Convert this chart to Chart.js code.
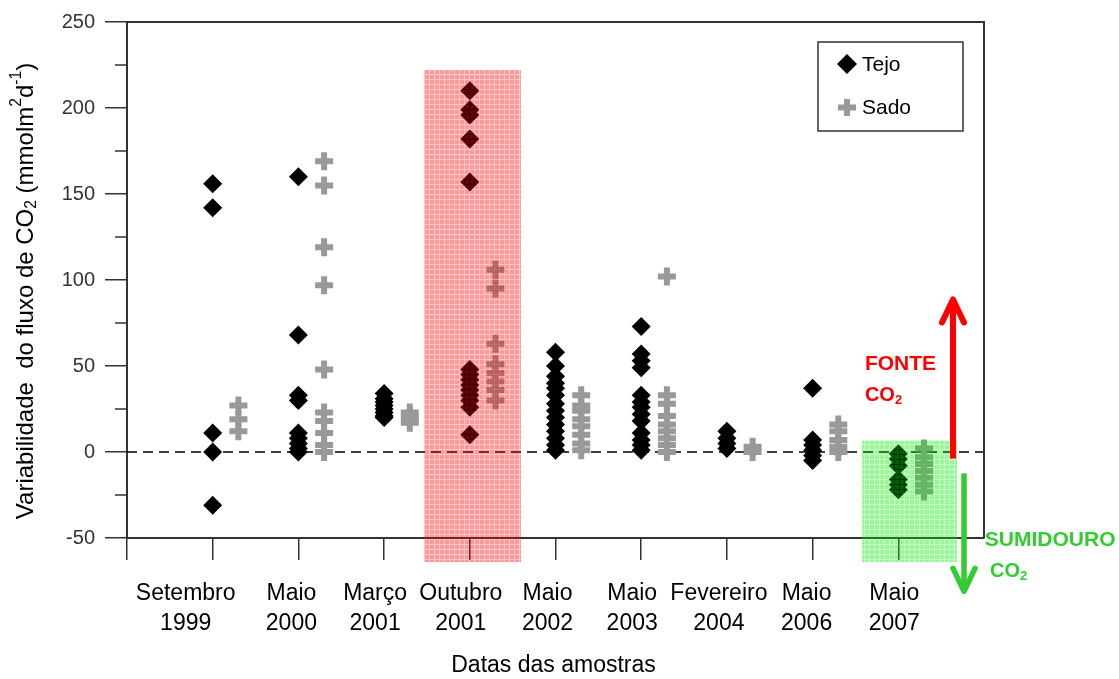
<!DOCTYPE html>
<html>
<head>
<meta charset="utf-8">
<script src="https://cdn.jsdelivr.net/npm/chart.js@4.4.1/dist/chart.umd.min.js"></script>
<style>
  html, body { margin: 0; padding: 0; background: #fff; }
</style>
</head>
<body>
<canvas id="chart" width="1119" height="679"></canvas>
<script>
// Data
const categories = [
    ["Setembro", "1999"], ["Maio", "2000"], ["Março", "2001"], ["Outubro", "2001"],
    ["Maio", "2002"], ["Maio", "2003"], ["Fevereiro", "2004"], ["Maio", "2006"], ["Maio", "2007"]
];
const tejoValues = [
    [156, 142, 11, 0, -31],
    [160, 68, 33, 30, 11, 8, 5, 2, 0],
    [34, 31, 29, 27, 25, 23, 21, 20],
    [210, 199, 196, 182, 157, 48, 45, 42, 39, 36, 33, 30, 26, 10],
    [58, 50, 44, 40, 37, 33, 28, 24, 20, 16, 12, 8, 4, 1],
    [73, 57, 53, 49, 33, 29, 26, 22, 18, 11, 7, 4, 1],
    [12, 8, 5, 2],
    [37, 7, 4, 1, -2, -5],
    [-1, -4, -8, -16, -19, -22]
];
const sadoValues = [
    [27, 19, 12],
    [169, 155, 119, 97, 48, 23, 18, 11, 4, 0],
    [23, 20, 17],
    [106, 95, 63, 51, 46, 41, 36, 30],
    [33, 27, 24, 19, 15, 10, 5, 1],
    [102, 33, 28, 21, 16, 12, 8, 4, 0],
    [3, 0],
    [16, 12, 7, 3, 0],
    [2, -3, -7, -11, -15, -19, -23]
];
const yMin = -50, yMax = 250, yStep = 50;

// Layout bits
const FONT = "'Liberation Sans', Arial, sans-serif";
const sadoShift = 0.3;
const labelShift = [-27, -7, -9, -9, -8, -9, -8, -6, -4]; // px, labels sit a bit left of ticks
const sourceBox = { x0: 3.466, x1: 4.597, y0: -64, y1: 222 };
const sinkBox = { x0: 8.576, x1: 9.685, y0: -64, y1: 6.6 };

function toPoints(groups, shift) {
    const pts = [];
    groups.forEach((vals, i) => vals.forEach(v => pts.push({ x: i + 1 + shift, y: v })));
    return pts;
}

// fine grid texture like the original shading
function hatch(ctx, base, line) {
    const c = document.createElement("canvas");
    c.width = 5; c.height = 5;
    const g = c.getContext("2d");
    g.fillStyle = base;
    g.fillRect(0, 0, 4, 4);
    g.fillStyle = line;
    g.fillRect(4, 0, 1, 5);
    g.fillRect(0, 4, 4, 1);
    return ctx.createPattern(c, "repeat");
}

// text with sub/superscripts, segments: [text, kind]
function richText(ctx, segs, x, y, size, align, bold) {
    const weight = bold ? "bold " : "";
    const parts = segs.map(([t, kind]) => {
        const s = kind ? size * 0.65 : size;
        ctx.font = weight + s + "px " + FONT;
        return { t, s, w: ctx.measureText(t).width, dy: kind === "sub" ? size * 0.25 : kind === "sup" ? -size * 0.38 : 0 };
    });
    const total = parts.reduce((acc, p) => acc + p.w, 0);
    let cx = align === "center" ? x - total / 2 : x;
    ctx.textAlign = "left";
    parts.forEach(p => {
        ctx.font = weight + p.s + "px " + FONT;
        ctx.fillText(p.t, cx, y + p.dy);
        cx += p.w;
    });
}

function arrow(ctx, x, yFrom, yTo, color, width) {
    const dir = yTo < yFrom ? 1 : -1;
    ctx.save();
    ctx.strokeStyle = color;
    ctx.lineWidth = width;
    ctx.beginPath();
    ctx.moveTo(x, yFrom);
    ctx.lineTo(x, yTo + dir * 2);
    ctx.stroke();
    ctx.lineCap = "round";
    ctx.lineJoin = "round";
    ctx.beginPath();
    ctx.moveTo(x - 11, yTo + dir * 23);
    ctx.lineTo(x, yTo);
    ctx.lineTo(x + 11, yTo + dir * 23);
    ctx.stroke();
    ctx.restore();
}

const decorations = {
    id: "decorations",
    beforeDatasetsDraw(chart) {
        const { ctx, chartArea: a, scales: { y } } = chart;
        const y0 = y.getPixelForValue(0);
        ctx.save();
        ctx.strokeStyle = "#000";
        ctx.lineWidth = 1.5;
        ctx.setLineDash([10, 6]);
        ctx.beginPath();
        ctx.moveTo(a.left, y0);
        ctx.lineTo(a.right, y0);
        ctx.stroke();
        ctx.restore();
    },
    afterDatasetsDraw(chart) {
        const { ctx, chartArea: a, scales: { x, y } } = chart;
        ctx.save();

        // shaded source / sink windows
        const box = (b, fill) => {
            const l = x.getPixelForValue(b.x0), r = x.getPixelForValue(b.x1);
            const t = y.getPixelForValue(b.y1), btm = y.getPixelForValue(b.y0);
            ctx.fillStyle = fill;
            ctx.fillRect(l, t, r - l, btm - t);
        };
        box(sourceBox, hatch(ctx, "rgba(255,0,0,0.40)", "rgba(255,0,0,0.22)"));
        box(sinkBox, hatch(ctx, "rgba(0,235,0,0.40)", "rgba(0,235,0,0.22)"));

        // top and right frame
        ctx.strokeStyle = "#333";
        ctx.lineWidth = 2;
        ctx.beginPath();
        ctx.moveTo(a.left, a.top);
        ctx.lineTo(a.right, a.top);
        ctx.lineTo(a.right, a.bottom);
        ctx.stroke();

        // minor y ticks
        ctx.lineWidth = 1.5;
        for (let v = yMin + yStep / 2; v < yMax; v += yStep) {
            const py = y.getPixelForValue(v);
            ctx.beginPath();
            ctx.moveTo(a.left - 12, py);
            ctx.lineTo(a.left, py);
            ctx.stroke();
        }

        // FONTE / SUMIDOURO arrows and labels
        arrow(ctx, x.getPixelForValue(9.638), y.getPixelForValue(-3.8), y.getPixelForValue(88.7), "#ff0000", 6);
        arrow(ctx, x.getPixelForValue(9.767), y.getPixelForValue(-12.4), y.getPixelForValue(-81), "#33cc33", 5.5);
        ctx.textBaseline = "middle";
        ctx.fillStyle = "#ff0000";
        richText(ctx, [["FONTE"]], x.getPixelForValue(8.61), y.getPixelForValue(51.2), 21, "left", true);
        richText(ctx, [["CO"], ["2", "sub"]], x.getPixelForValue(8.61), y.getPixelForValue(32.7), 20, "left", true);
        ctx.fillStyle = "#33cc33";
        richText(ctx, [["SUMIDOURO"]], x.getPixelForValue(10.01), y.getPixelForValue(-51.2), 21, "left", true);
        richText(ctx, [["CO"], ["2", "sub"]], x.getPixelForValue(10.07), y.getPixelForValue(-69.7), 20, "left", true);

        // legend
        ctx.strokeStyle = "#333";
        ctx.lineWidth = 1.5;
        ctx.strokeRect(818, 42, 145, 89);
        ctx.fillStyle = "#000";
        ctx.beginPath();
        ctx.moveTo(847, 54); ctx.lineTo(857, 64); ctx.lineTo(847, 74); ctx.lineTo(837, 64);
        ctx.closePath();
        ctx.fill();
        ctx.fillStyle = "#999";
        ctx.fillRect(844, 99, 6, 17);
        ctx.fillRect(838, 104.5, 18, 6);
        ctx.fillStyle = "#000";
        ctx.font = "21px " + FONT;
        ctx.textAlign = "left";
        ctx.fillText("Tejo", 862, 65);
        ctx.fillText("Sado", 862, 108);

        // category labels
        ctx.fillStyle = "#000";
        ctx.textAlign = "center";
        ctx.font = "23px " + FONT;
        categories.forEach((lines, i) => {
            const px = x.getPixelForValue(i + 1) + labelShift[i];
            lines.forEach((t, k) => ctx.fillText(t, px, 594 + k * 30));
        });
        ctx.font = "23px " + FONT;
        ctx.fillText("Datas das amostras", (a.left + a.right) / 2 - 2, 666);

        // y title
        ctx.save();
        ctx.translate(26, 291);
        ctx.rotate(-Math.PI / 2);
        ctx.fillStyle = "#000";
        richText(ctx, [["Variabilidade  do fluxo de CO"], ["2", "sub"], [" (mmolm"], ["2", "sup"], ["d"], ["-1", "sup"], [")"]], 0, 0, 24, "center");
        ctx.restore();

        ctx.restore();
    }
};

new Chart(document.getElementById("chart"), {
    type: "scatter",
    data: {
        datasets: [
            {
                label: "Tejo",
                data: toPoints(tejoValues, 0),
                pointStyle: "rectRot",
                pointRadius: 9.5,
                backgroundColor: "#000",
                borderColor: "#000",
                borderWidth: 0
            },
            {
                label: "Sado",
                data: toPoints(sadoValues, sadoShift),
                pointStyle: "cross",
                pointRadius: 9,
                borderColor: "#999",
                borderWidth: 6
            }
        ]
    },
    options: {
        responsive: false,
        animation: false,
        events: [],
        layout: { padding: { top: 20, right: 135, left: 0, bottom: 0 } },
        plugins: { legend: { display: false }, tooltip: { enabled: false } },
        scales: {
            x: {
                type: "linear",
                min: 0,
                max: 10,
                ticks: { stepSize: 1, autoSkip: false, callback: () => "" },
                grid: {
                    drawOnChartArea: false,
                    tickLength: 22,
                    lineWidth: 1.5,
                    color: c => (c.tick && c.tick.value === 10 ? "rgba(0,0,0,0)" : "#333")
                },
                border: { color: "#333", width: 2 },
                afterFit: s => { s.height = 141; }
            },
            y: {
                min: yMin,
                max: yMax,
                ticks: { stepSize: yStep, color: "#333", font: { family: FONT, size: 20 }, padding: 10 },
                grid: { drawOnChartArea: false, tickLength: 22, lineWidth: 1.5, color: "#333" },
                border: { color: "#333", width: 2 },
                afterFit: s => { s.width = 127; }
            }
        }
    },
    plugins: [decorations]
});
</script>
</body>
</html>
